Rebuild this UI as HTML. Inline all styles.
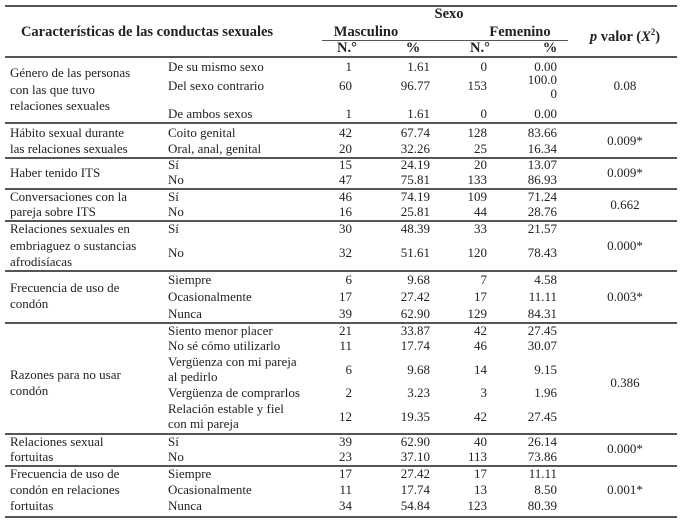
<!DOCTYPE html>
<html><head><meta charset="utf-8"><style>
body{margin:0;background:#fff;}
#c{position:relative;width:682px;height:522px;overflow:hidden;background:#fff;font-family:"Liberation Serif",serif;font-size:13px;color:#222;}
.t{position:absolute;line-height:16px;white-space:nowrap;}
.r{position:absolute;line-height:16px;white-space:nowrap;text-align:right;}
.c{position:absolute;line-height:16px;white-space:nowrap;text-align:center;transform:translateX(-50%);}
.hd{font-size:14.5px;}
.h{position:absolute;left:5px;width:672px;height:1.5px;background:#555;}
b{font-weight:bold;}
</style></head><body><div id="c">
<div class="h" style="top:5px"></div>
<div class="h" style="top:40px;left:322px;width:246px;height:1px"></div>
<div class="h" style="top:56px"></div>
<div class="h" style="top:122px"></div>
<div class="h" style="top:157px"></div>
<div class="h" style="top:188px"></div>
<div class="h" style="top:220px"></div>
<div class="h" style="top:270px"></div>
<div class="h" style="top:322px"></div>
<div class="h" style="top:433px"></div>
<div class="h" style="top:465px"></div>
<div class="h" style="top:516px"></div>

<div class="c hd" style="left:449px;top:6px"><b>Sexo</b></div>
<div class="c hd" style="left:147px;top:24px"><b>Características de las conductas sexuales</b></div>
<div class="c hd" style="left:366px;top:24px"><b>Masculino</b></div>
<div class="c hd" style="left:520px;top:24px"><b>Femenino</b></div>
<div class="c hd" style="left:625px;top:24px"><b><i>p</i> valor (<i>X</i><sup style="font-size:9px">2</sup>)</b></div>
<div class="c hd" style="left:347px;top:40px"><b>N.°</b></div>
<div class="c hd" style="left:413px;top:40px"><b>%</b></div>
<div class="c hd" style="left:480px;top:40px"><b>N.°</b></div>
<div class="c hd" style="left:550px;top:40px"><b>%</b></div>

<div class="t" style="left:10px;top:65px">Género de las personas</div>
<div class="t" style="left:10px;top:82px">con las que tuvo</div>
<div class="t" style="left:10px;top:98px">relaciones sexuales</div>
<div class="t" style="left:10px;top:125px">Hábito sexual durante</div>
<div class="t" style="left:10px;top:141px">las relaciones sexuales</div>
<div class="t" style="left:10px;top:165px">Haber tenido ITS</div>
<div class="t" style="left:10px;top:189px">Conversaciones con la</div>
<div class="t" style="left:10px;top:204px">pareja sobre ITS</div>
<div class="t" style="left:10px;top:221px">Relaciones sexuales en</div>
<div class="t" style="left:10px;top:238px">embriaguez o sustancias</div>
<div class="t" style="left:10px;top:254px">afrodisíacas</div>
<div class="t" style="left:10px;top:280px">Frecuencia de uso de</div>
<div class="t" style="left:10px;top:296px">condón</div>
<div class="t" style="left:10px;top:367px">Razones para no usar</div>
<div class="t" style="left:10px;top:383px">condón</div>
<div class="t" style="left:10px;top:434px">Relaciones sexual</div>
<div class="t" style="left:10px;top:449px">fortuitas</div>
<div class="t" style="left:10px;top:466px">Frecuencia de uso de</div>
<div class="t" style="left:10px;top:482px">condón en relaciones</div>
<div class="t" style="left:10px;top:498px">fortuitas</div>

<div class="c" style="left:625px;top:78px">0.08</div>
<div class="c" style="left:625px;top:133px">0.009*</div>
<div class="c" style="left:625px;top:165px">0.009*</div>
<div class="c" style="left:625px;top:197px">0.662</div>
<div class="c" style="left:625px;top:238px">0.000*</div>
<div class="c" style="left:625px;top:289px">0.003*</div>
<div class="c" style="left:625px;top:375px">0.386</div>
<div class="c" style="left:625px;top:441px">0.000*</div>
<div class="c" style="left:625px;top:482px">0.001*</div>

<div id="rows"></div>
<script>
var R=[
[67,"De su mismo sexo","1","1.61","0","0.00"],
[86,"Del sexo contrario","60","96.77","153",""],
[114,"De ambos sexos","1","1.61","0","0.00"],
[133,"Coito genital","42","67.74","128","83.66"],
[149,"Oral, anal, genital","20","32.26","25","16.34"],
[165,"Sí","15","24.19","20","13.07"],
[180,"No","47","75.81","133","86.93"],
[197,"Sí","46","74.19","109","71.24"],
[212,"No","16","25.81","44","28.76"],
[229,"Sí","30","48.39","33","21.57"],
[253,"No","32","51.61","120","78.43"],
[280,"Siempre","6","9.68","7","4.58"],
[297,"Ocasionalmente","17","27.42","17","11.11"],
[314,"Nunca","39","62.90","129","84.31"],
[331,"Siento menor placer","21","33.87","42","27.45"],
[346,"No sé cómo utilizarlo","11","17.74","46","30.07"],
[370,"","6","9.68","14","9.15"],
[393,"Vergüenza de comprarlos","2","3.23","3","1.96"],
[417,"","12","19.35","42","27.45"],
[442,"Sí","39","62.90","40","26.14"],
[457,"No","23","37.10","113","73.86"],
[474,"Siempre","17","27.42","17","11.11"],
[490,"Ocasionalmente","11","17.74","13","8.50"],
[506,"Nunca","34","54.84","123","80.39"]];
var h="";
R.forEach(function(r){var y=r[0]-8;
if(r[1])h+='<div class="t" style="left:168px;top:'+y+'px">'+r[1]+'</div>';
h+='<div class="r" style="right:330px;top:'+y+'px">'+r[2]+'</div>';
h+='<div class="r" style="right:252px;top:'+y+'px">'+r[3]+'</div>';
h+='<div class="r" style="right:195px;top:'+y+'px">'+r[4]+'</div>';
if(r[5])h+='<div class="r" style="right:125px;top:'+y+'px">'+r[5]+'</div>';});
h+='<div class="r" style="right:125px;top:72px">100.0</div><div class="r" style="right:125px;top:86px">0</div>';
h+='<div class="t" style="left:168px;top:354px">Vergüenza con mi pareja</div><div class="t" style="left:168px;top:369px">al pedirlo</div>';
h+='<div class="t" style="left:168px;top:401px">Relación estable y fiel</div><div class="t" style="left:168px;top:416px">con mi pareja</div>';
document.getElementById("rows").innerHTML=h;
</script>
</div></body></html>
